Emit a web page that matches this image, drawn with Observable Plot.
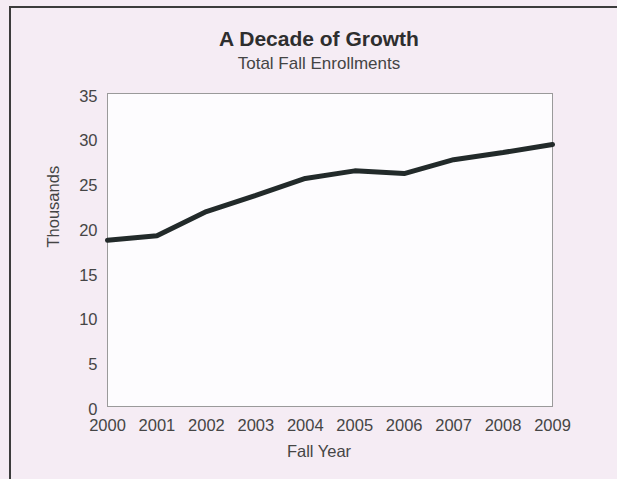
<!DOCTYPE html>
<html>
<head>
<meta charset="utf-8">
<script src="https://cdn.jsdelivr.net/npm/d3@7"></script>
<script src="https://cdn.jsdelivr.net/npm/@observablehq/plot@0.6"></script>
<style>
  html, body { margin: 0; padding: 0; }
  body { width: 617px; height: 479px; background: #f5ecf4; position: relative; overflow: hidden;
         font-family: "Liberation Sans", Arial, Helvetica, sans-serif; }
  #border { position: absolute; left: 9px; top: 6px; width: 620px; height: 480px;
            border-left: 2.5px solid #3c3c3c; border-top: 2px solid #3c3c3c; }
  #title { position: absolute; left: 21px; width: 596px; top: 28px; text-align: center;
           font-size: 21px; font-weight: bold; color: #2e2e2e; line-height: 21px; }
  #subtitle { position: absolute; left: 21px; width: 596px; top: 55px; text-align: center;
              font-size: 17px; color: #444; line-height: 17px; }
  #chart { position: absolute; left: 0; top: 78px; }
</style>
</head>
<body>
<div id="border"></div>
<div id="title">A Decade of Growth</div>
<div id="subtitle">Total Fall Enrollments</div>
<div id="chart"></div>
<script>
const years = [2000, 2001, 2002, 2003, 2004, 2005, 2006, 2007, 2008, 2009];
const enrollments = [18.6, 19.1, 21.8, 23.6, 25.5, 26.35, 26.05, 27.6, 28.4, 29.3];
const yTicks = [0, 5, 10, 15, 20, 25, 30, 35];
const xLabel = "Fall Year";
const yLabel = "Thousands";

const data = years.map((y, i) => ({year: y, value: enrollments[i]}));

const chart = Plot.plot({
  width: 617,
  height: 400,
  marginLeft: 107,
  marginRight: 65,
  marginTop: 15,
  marginBottom: 72,
  style: {background: "transparent", fontSize: "16.5px", fontFamily: "Liberation Sans, Arial, sans-serif", color: "#454545"},
  x: {domain: [2000, 2009]},
  y: {domain: [0, 35]},
  marks: [
    Plot.frame({fill: "#fdfcfe", stroke: "#9a9a9a", strokeWidth: 1}),
    Plot.axisX({ticks: years, tickFormat: "d", tickSize: 0, tickPadding: 13, label: null, fill: "#454545", fontSize: 16.5}),
    Plot.axisY({ticks: yTicks, tickSize: 0, tickPadding: 10, dy: 3, label: null, fill: "#454545", fontSize: 16.5}),
    Plot.line(data, {x: "year", y: "value", stroke: "#222a2a", strokeWidth: 5, strokeLinejoin: "miter"}),
    Plot.text([xLabel], {frameAnchor: "bottom", dx: -11, dy: 50, fill: "#454545", fontSize: 16.5}),
    Plot.text([yLabel], {frameAnchor: "left", rotate: -90, dx: -54, dy: -2.5, fill: "#454545", fontSize: 16.5})
  ]
});
document.getElementById("chart").appendChild(chart);
</script>
</body>
</html>
